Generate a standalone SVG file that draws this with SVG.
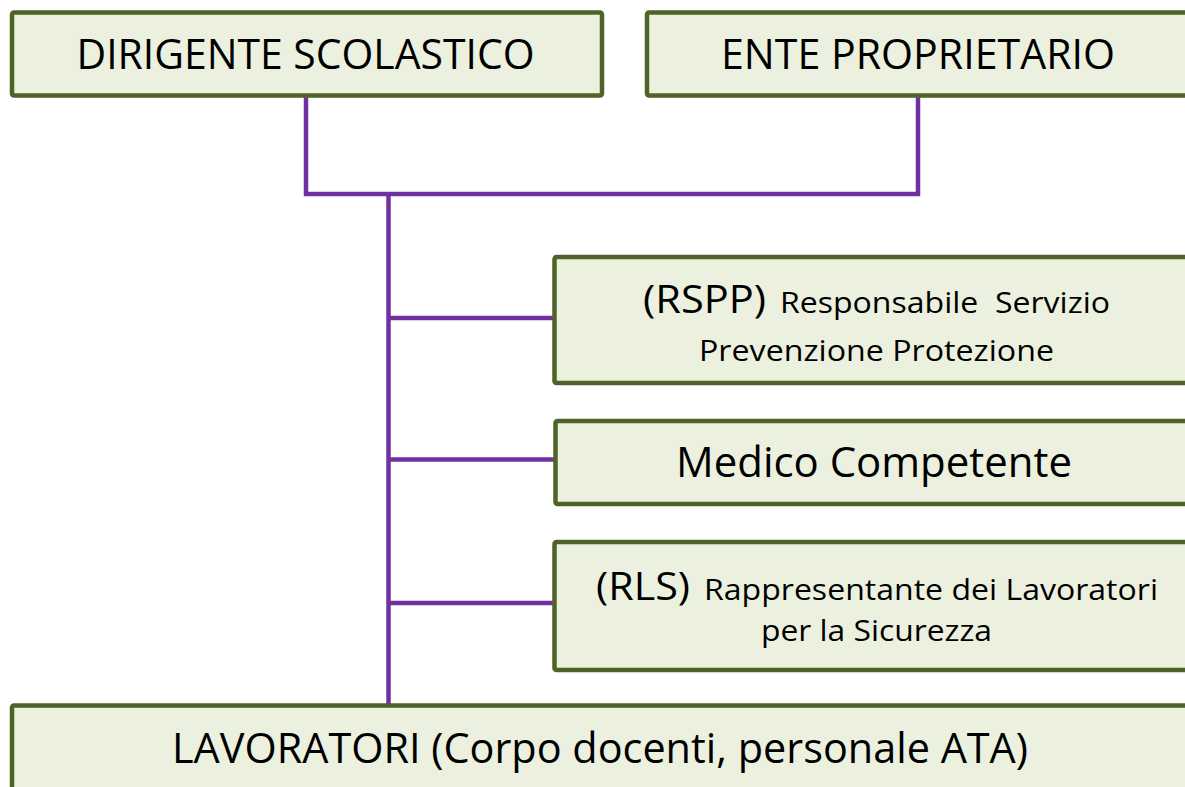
<svg xmlns="http://www.w3.org/2000/svg" width="1185" height="787" viewBox="0 0 1185 787">
<style>
.box{fill:#ebf1de;stroke:#4f6228;stroke-width:4.5}
.t{font-family:"Open Sans","Liberation Sans",sans-serif;fill:#000}
.big{font-size:42px}
.mid{font-size:38px}
.sm{font-size:29px}
.conn{fill:none;stroke:#7030a0;stroke-width:4.5;stroke-linejoin:miter}
</style>
<rect width="1185" height="787" fill="#ffffff"/>
<g id="connectors">
<path class="conn" d="M306,95 V194 H389"/>
<path class="conn" d="M918,95 V194 H389"/>
<path class="conn" d="M388.5,194 V705"/>
<path class="conn" d="M388.5,318 H554"/>
<path class="conn" d="M388.5,459.5 H555"/>
<path class="conn" d="M388.5,603 H554"/>
</g>
<g id="dirigente">
<rect class="box" x="12" y="12.5" width="590" height="83" rx="2"/>
<text class="t big" x="76.5" y="69" textLength="458" lengthAdjust="spacingAndGlyphs">DIRIGENTE SCOLASTICO</text>
</g>
<g id="ente">
<rect class="box" x="647" y="12.5" width="600" height="83" rx="2"/>
<text class="t big" x="721" y="69" textLength="394" lengthAdjust="spacingAndGlyphs">ENTE PROPRIETARIO</text>
</g>
<g id="rspp">
<rect class="box" x="554.5" y="257" width="700" height="126" rx="2"/>
<text class="t mid" x="643" y="313" textLength="123" lengthAdjust="spacingAndGlyphs">(RSPP)</text>
<text class="t sm" x="780" y="313" textLength="330" lengthAdjust="spacingAndGlyphs" xml:space="preserve">Responsabile  Servizio</text>
<text class="t sm" x="699" y="361" textLength="355" lengthAdjust="spacingAndGlyphs">Prevenzione Protezione</text>
</g>
<g id="medico">
<rect class="box" x="555.5" y="421" width="700" height="83" rx="2"/>
<text class="t big" x="676" y="477" textLength="396" lengthAdjust="spacingAndGlyphs">Medico Competente</text>
</g>
<g id="rls">
<rect class="box" x="554.5" y="542" width="700" height="128" rx="2"/>
<text class="t mid" x="596" y="600" textLength="94" lengthAdjust="spacingAndGlyphs">(RLS)</text>
<text class="t sm" x="704" y="600" textLength="454" lengthAdjust="spacingAndGlyphs">Rappresentante dei Lavoratori</text>
<text class="t sm" x="761" y="641" textLength="231" lengthAdjust="spacingAndGlyphs">per la Sicurezza</text>
</g>
<g id="lavoratori">
<rect class="box" x="12" y="705.5" width="1250" height="120" rx="2"/>
<text class="t big" x="172" y="763" textLength="856" lengthAdjust="spacingAndGlyphs">LAVORATORI (Corpo docenti, personale ATA)</text>
</g>
</svg>
